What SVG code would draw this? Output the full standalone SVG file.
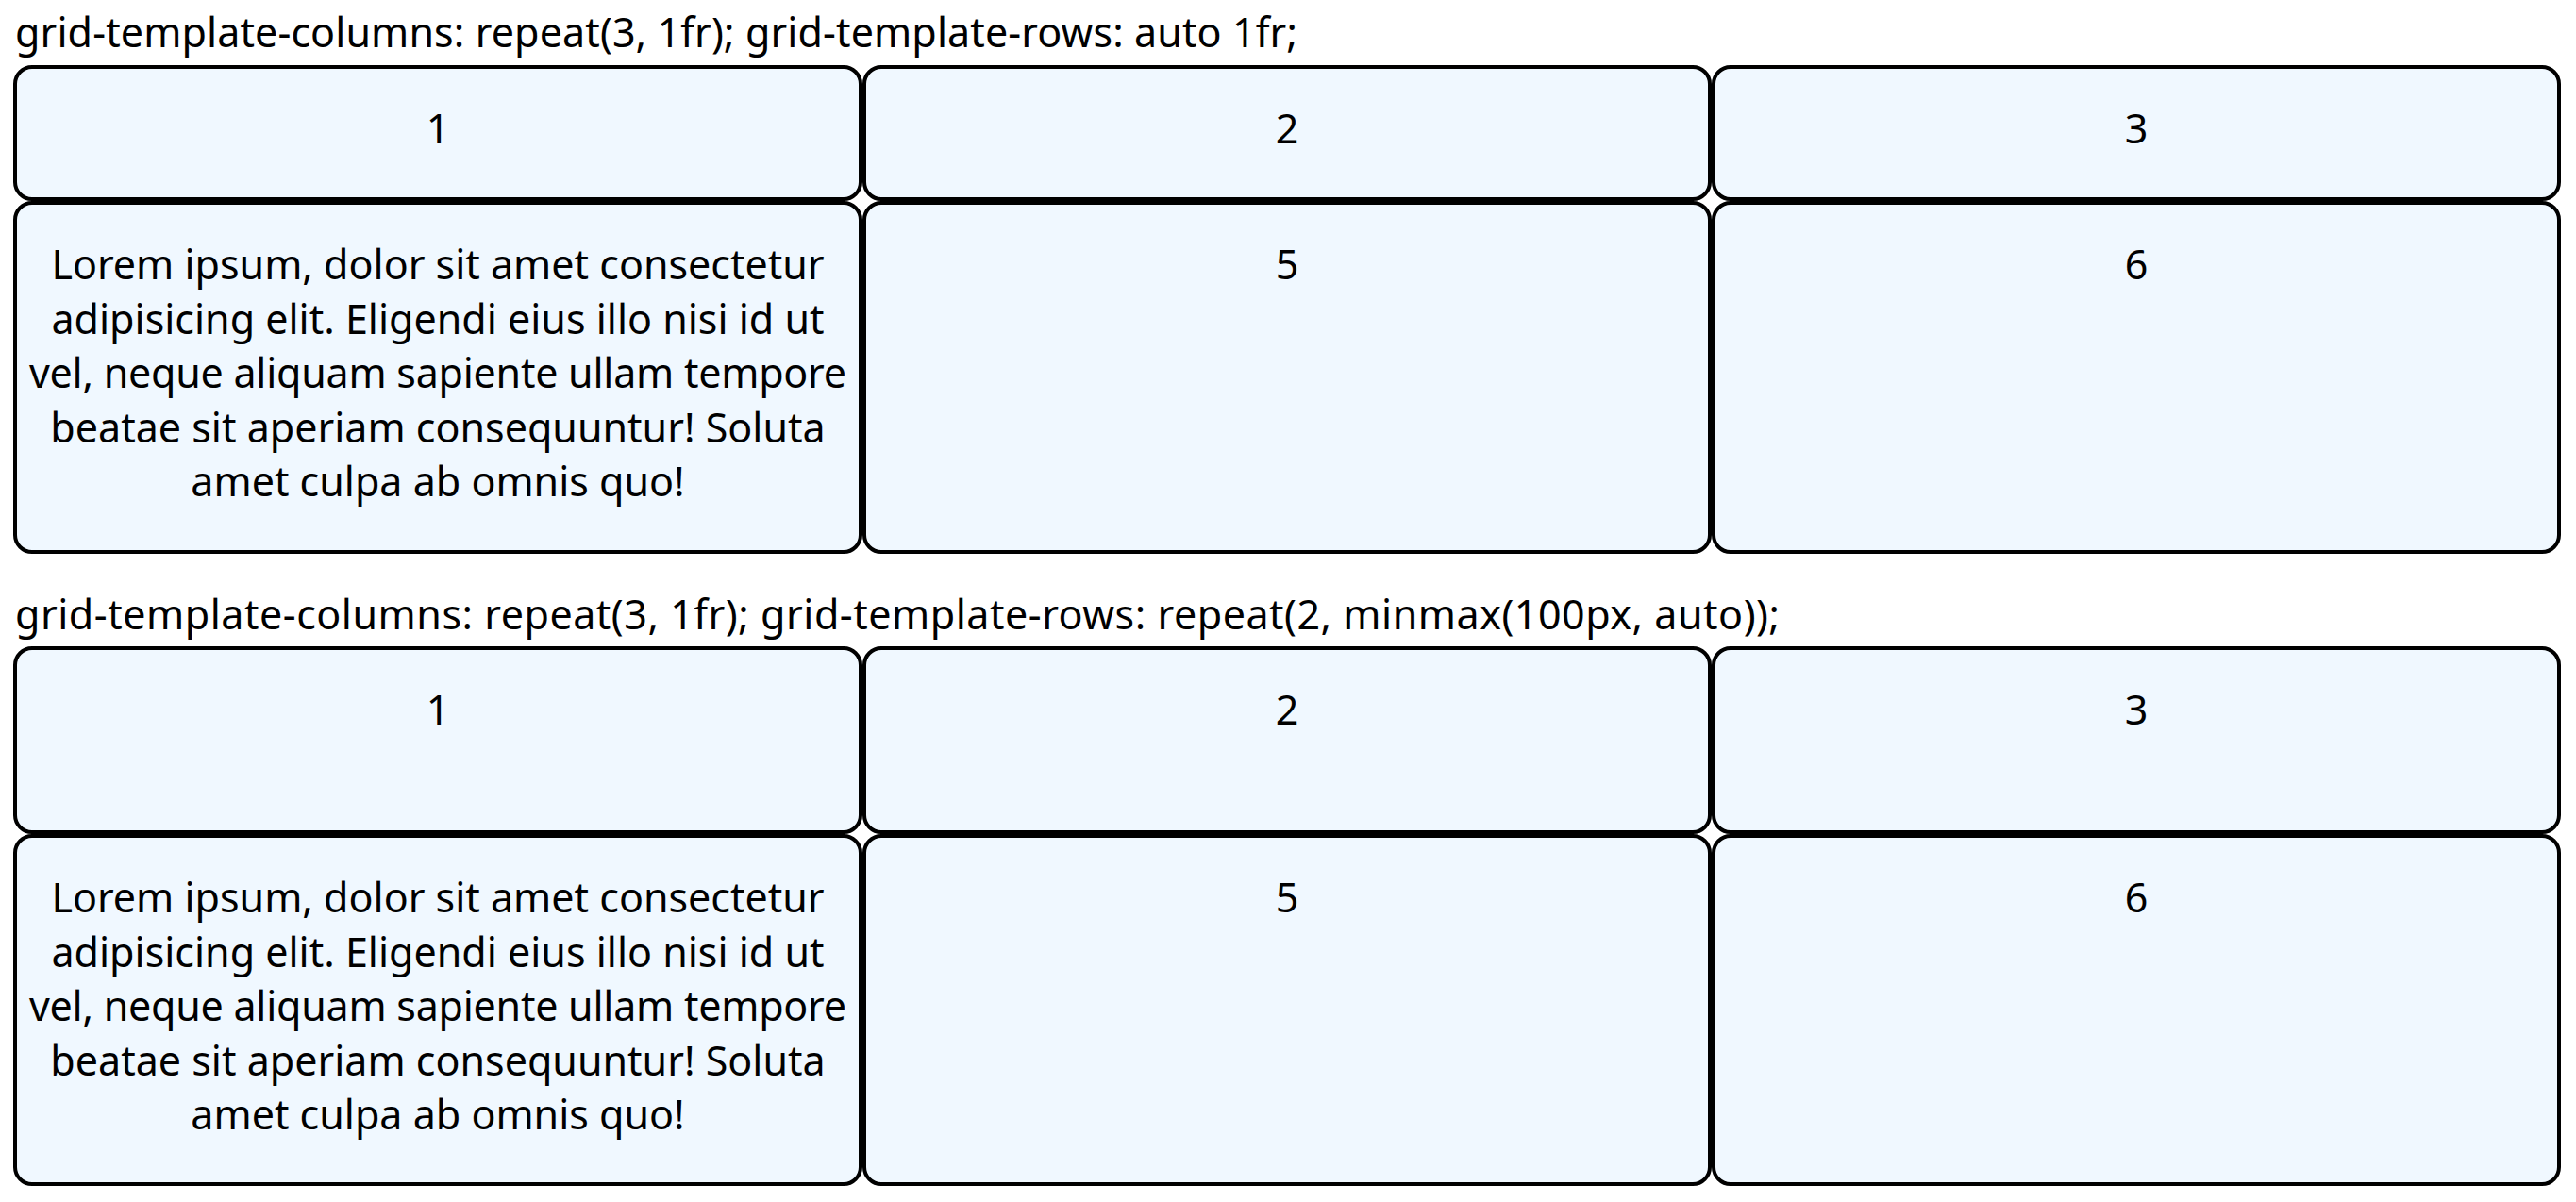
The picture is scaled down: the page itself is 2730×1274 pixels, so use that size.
<svg xmlns="http://www.w3.org/2000/svg" width="2730" height="1274" viewBox="0 0 2730 1274">
<style>
.bg{fill:#ffffff}
.cell{fill:#f0f8ff;stroke:#000000;stroke-width:4}
.t{font-family:"Noto Sans","Liberation Sans",sans-serif;font-size:43px;fill:#000000}
.c{text-anchor:middle}
</style>
<rect class="bg" x="0" y="0" width="2730" height="1274"/>
<text id="title1" class="t" x="16" y="50" textLength="1359" lengthAdjust="spacing">grid-template-columns: repeat(3, 1fr); grid-template-rows: auto 1fr;</text>
<g id="g1c1"><rect class="cell" x="16" y="71" width="896" height="140" rx="18"/><text class="t c" x="464" y="152">1</text></g>
<g id="g1c2"><rect class="cell" x="916" y="71" width="896" height="140" rx="18"/><text class="t c" x="1364" y="152">2</text></g>
<g id="g1c3"><rect class="cell" x="1816" y="71" width="896" height="140" rx="18"/><text class="t c" x="2264" y="152">3</text></g>
<g id="g1c4"><rect class="cell" x="16" y="215" width="896" height="370" rx="18"/>
<text class="t c" x="464" y="296">Lorem ipsum, dolor sit amet consectetur</text>
<text class="t c" x="464" y="353.5">adipisicing elit. Eligendi eius illo nisi id ut</text>
<text class="t c" x="464" y="411" textLength="866" lengthAdjust="spacing">vel, neque aliquam sapiente ullam tempore</text>
<text class="t c" x="464" y="468.5">beatae sit aperiam consequuntur! Soluta</text>
<text class="t c" x="464" y="526">amet culpa ab omnis quo!</text></g>
<g id="g1c5"><rect class="cell" x="916" y="215" width="896" height="370" rx="18"/><text class="t c" x="1364" y="296">5</text></g>
<g id="g1c6"><rect class="cell" x="1816" y="215" width="896" height="370" rx="18"/><text class="t c" x="2264" y="296">6</text></g>
<text id="title2" class="t" x="16" y="667" textLength="1870" lengthAdjust="spacing">grid-template-columns: repeat(3, 1fr); grid-template-rows: repeat(2, minmax(100px, auto));</text>
<g id="g2c1"><rect class="cell" x="16" y="687" width="896" height="195" rx="18"/><text class="t c" x="464" y="768">1</text></g>
<g id="g2c2"><rect class="cell" x="916" y="687" width="896" height="195" rx="18"/><text class="t c" x="1364" y="768">2</text></g>
<g id="g2c3"><rect class="cell" x="1816" y="687" width="896" height="195" rx="18"/><text class="t c" x="2264" y="768">3</text></g>
<g id="g2c4"><rect class="cell" x="16" y="886" width="896" height="369" rx="18"/>
<text class="t c" x="464" y="967">Lorem ipsum, dolor sit amet consectetur</text>
<text class="t c" x="464" y="1024.5">adipisicing elit. Eligendi eius illo nisi id ut</text>
<text class="t c" x="464" y="1082" textLength="866" lengthAdjust="spacing">vel, neque aliquam sapiente ullam tempore</text>
<text class="t c" x="464" y="1139.5">beatae sit aperiam consequuntur! Soluta</text>
<text class="t c" x="464" y="1197">amet culpa ab omnis quo!</text></g>
<g id="g2c5"><rect class="cell" x="916" y="886" width="896" height="369" rx="18"/><text class="t c" x="1364" y="967">5</text></g>
<g id="g2c6"><rect class="cell" x="1816" y="886" width="896" height="369" rx="18"/><text class="t c" x="2264" y="967">6</text></g>
<g id="connectors"/>
</svg>
